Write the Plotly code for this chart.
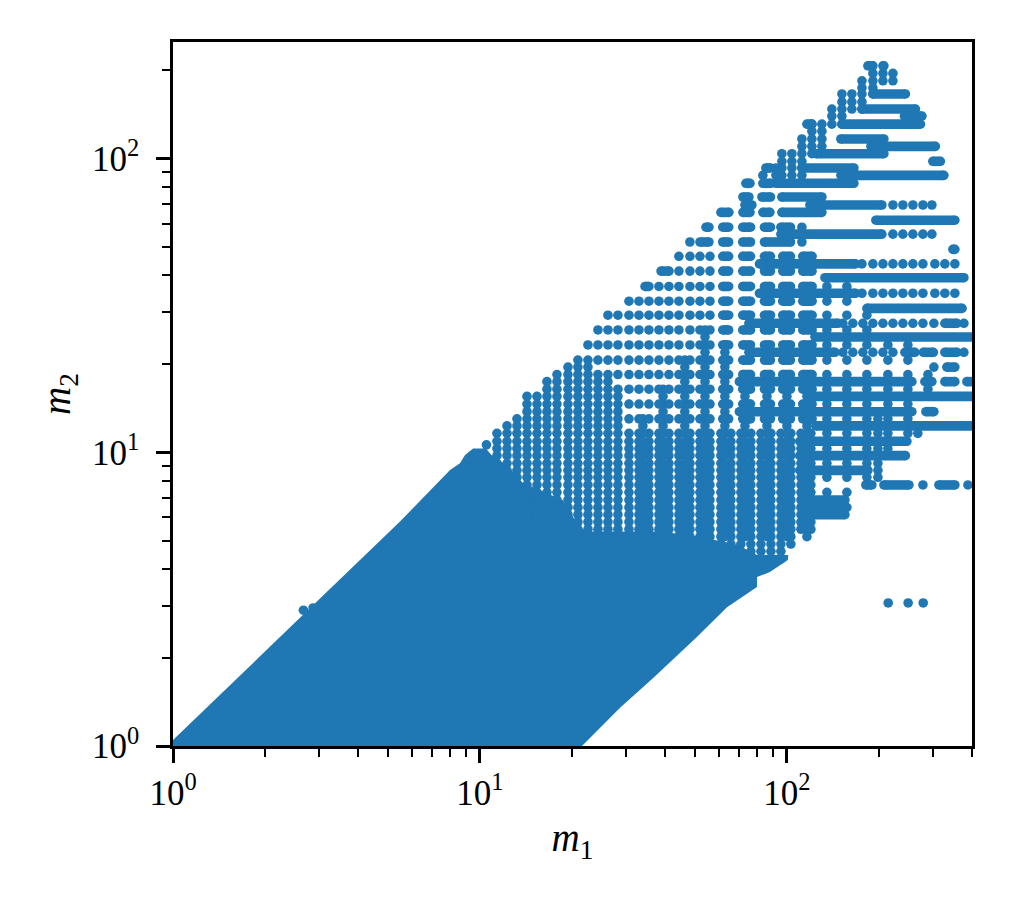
import plotly.graph_objects as go

BLUE = "#1f77b4"
DOT = 9.6

# every m2 level that shows up in the plot (top to bottom)
m2_rows = [207, 195, 184, 174, 166, 156, 147.5, 139.6, 131, 124, 116.6, 110.1, 103.9, 97.9, 92.9, 87.7,
           82.4, 78, 74, 69.5, 65.6, 61.7, 58.4, 55.3, 52, 49.1, 46.5, 43.8, 41.4, 39.3, 36.7, 34.8,
           32.7, 30.9, 29.3, 27.5, 26.1, 24.7, 23.2, 21.9, 20.6, 19.5, 18.4, 17.4, 16.4, 15.5, 14.6,
           13.75, 13.0, 12.3, 11.6, 10.9, 10.3, 9.74, 9.17, 8.68, 8.22, 7.74, 7.31, 6.88, 6.49, 6.13,
           5.79, 5.47, 5.16, 4.87, 4.6, 4.34]

# the filled-in part of the cloud, outline only
solid_m1 = [1, 1, 5.49, 7.99, 8.61, 8.94, 9.5, 10.46, 10.9, 11.9, 12.8, 13.8, 16.1, 18.6, 20.4, 22, 38.6,
            52.1, 68.7, 79.9, 101, 100.7, 88, 79.9, 79.9, 63.8, 50.9, 36.6, 28.6, 21.5]
solid_m2 = [1, 1.048, 5.81, 8.70, 9.17, 9.79, 10.3, 10.3, 9.79, 9.17, 8.59, 7.86, 7.34, 6.88, 5.88, 5.37,
            5.37, 5.16, 4.84, 4.47, 4.47, 4.30, 3.91, 3.76, 3.48, 2.97, 2.35, 1.70, 1.35, 1]

# full columns running down into the solid part
col_m1 = [11.36, 12.25, 13.2, 14.23, 15.34, 16.53, 17.82, 19.35, 20.85, 22.48, 24.23, 26.12, 28.15, 30.58,
          32.96, 35.52, 38.29, 41.27, 44.48, 48.32, 52.08, 56.14, 60.95, 65.7, 70.8, 76.3, 82.3, 88.7,
          95.6, 103, 111.1, 119.7]
col_top = [11.6, 12.3, 13.0, 15.5, 15.5, 17.4, 18.4, 19.5, 20.6, 20.6, 18.4, 17.4, 15.5, 11.6,
           11.6, 11.6, 11.6, 11.6, 11.6, 11.6, 11.6, 11.6, 11.6, 11.6, 11.6, 11.6, 11.6, 11.6,
           11.6, 11.6, 11.6, 11.6]
col_low = [5.0] * 22 + [4.6, 4.6, 4.6, 4.34, 4.34, 4.34, 4.34, 4.87, 5.47, 5.47]

# columns sitting half way between the ones above
half_m1 = [33.95, 39.5, 46.5, 54.1, 62.8, 73, 86.1, 100, 116.2]
half_top = [13.0, 16.4, 20.6, 26.1, 23.2, 15.5, 15.5, 15.5, 15.5]

# short columns in the peak at the top
peak_m1 = [190.6, 205.5, 221.5, 175.6, 162.8, 151.1, 140.1, 130, 120.6, 111.9, 103.8, 96.3, 92.1, 83.5]
peak_top = [207, 207, 195, 184, 166, 166, 147.5, 131, 131, 116.6, 103.9, 103.9, 92.9, 87.7]
peak_low = [166, 184, 184, 147.5, 147.5, 131, 131, 110.1, 103.9, 87.7, 87.7, 82.4, 82.4, 82.4]

# rows of separate dots, first dot per row
even_m2 = [46.5, 41.4, 36.7, 32.7, 29.3, 26.1, 23.2, 20.6, 18.4, 16.4, 14.6, 13.0]
even_start = [44.48, 44.48, 38.29, 30.58, 26.12, 24.23, 22.48, 24.23, 26.12, 28.15, 30.58, 30.58]
row_end = 56.14

# merged runs shared by those rows
block_from = [61.8, 71.8, 84.5, 96.9, 112.6]
block_to = [64.6, 76.1, 88.4, 102.7, 120.8]

# sparse columns on the right, they only hit every second level
right_m1 = [135, 156.8, 182.2, 197.9, 213.3, 247.8, 288, 267]
right_top = [36.7, 36.7, 29.3, 13.0, 23.2, 23.2, 18.4, 11.6]
right_low = [7.31, 6.49, 8.22, 8.22, 10.3, 11.6, 16.4, 11.6]
second_levels = [36.7, 32.7, 29.3, 26.1, 23.2, 20.6, 18.4, 16.4, 14.6, 13.0, 11.6, 10.3, 9.17, 8.22, 7.31, 6.49]

# horizontal runs: m2, from m1, to m1
runs = [
    (207, 183.6, 189.2), (166, 190.6, 243.2), (147.5, 175.6, 262.2), (139.6, 241.4, 275.4),
    (131, 116.2, 120.6), (131, 151.1, 272.3), (116.6, 149.9, 207), (110.1, 187.8, 304.5),
    (103.9, 124.3, 207), (97.9, 298.8, 316.2), (92.9, 85.4, 88.4), (92.9, 111.9, 165.3),
    (87.7, 149.9, 324.6), (82.4, 73.5, 75.8), (82.4, 84.5, 88.7), (82.4, 93.5, 165.3),
    (74, 71.9, 75.2), (74, 82.9, 88.4), (74, 96.3, 130), (69.5, 118.8, 203.9),
    (65.6, 60.95, 64.7), (65.6, 71.9, 75.8), (65.6, 83.5, 88), (65.6, 96.3, 130),
    (61.7, 194.9, 352.5), (58.4, 54.5, 55.7), (58.4, 61.8, 64.6), (58.4, 71.8, 76.1),
    (58.4, 84.5, 88.4), (58.4, 95.6, 102.7), (55.3, 95.6, 203.9), (52, 52.1, 55.7),
    (52, 61.8, 64.6), (52, 71.8, 76.1), (52, 84.5, 102.7), (49.1, 347.3, 352.5),
    (43.8, 81.4, 167.2), (41.4, 38.9, 41.3), (39.3, 133, 377.2), (36.7, 34.5, 35.5),
    (34.8, 81.4, 167.2), (30.9, 182.2, 372), (27.5, 75.2, 146.6), (27.5, 327, 357.9),
    (24.7, 123.4, 420), (21.9, 75.2, 143.4), (21.9, 242.3, 261.2), (21.9, 278.4, 300),
    (21.9, 327, 357.9), (19.5, 331.9, 352.5), (17.4, 70, 255.4), (17.4, 281.5, 296.7),
    (17.4, 327, 352.5), (17.4, 385.8, 420), (15.5, 121.5, 420), (13.75, 70, 255.4),
    (13.75, 283.7, 301.2), (12.3, 124.3, 420), (10.9, 110.2, 246), (9.74, 110.2, 243.2),
    (8.68, 110.2, 183.6), (7.74, 180.8, 189.2), (7.74, 207, 249.7), (7.74, 312.7, 352.5),
    (6.88, 118.8, 154.5), (6.49, 118.8, 154.5), (6.13, 118.8, 154.5),
]

# single points: m2, then its m1 values
singles = [
    (207, [207]),
    (82.4, [96.3]),
    (69.5, [73, 76.9, 221.5, 238.7, 257.3, 277.4, 296.7]),
    (58.4, [111.9]),
    (55.3, [221.5, 238.7, 257.3, 277.4, 296.7]),
    (52, [48.3, 111.9]),
    (43.8, [175.6, 190.6, 205.5, 221.5, 238.7, 257.3, 277.4, 303.4, 327, 352.5]),
    (34.8, [175.6, 190.6, 205.5, 221.5, 238.7, 257.3, 277.4, 303.4, 327, 352.5]),
    (27.5, [152.2, 164, 176.8, 190.6, 205.5, 221.5, 238.7, 257.3, 277.4, 301.2, 377.2]),
    (21.9, [152.2, 164, 176.8, 190.6, 205.5, 221.5, 377.2]),
    (19.5, [301.2]),
    (8.68, [197.9]),
    (7.74, [277.4, 388.8]),
    (10.6, [10.5]),
    (3.07, [213.8, 248.3, 278]),
    (2.9, [2.66]),
    (2.95, [2.86]),
]

tick_vals = [1, 10, 100]
tick_text = ["10<sup>0</sup>", "10<sup>1</sup>", "10<sup>2</sup>"]

# collect scatter points
pts_x, pts_y = [], []
for m1, top, low in zip(col_m1, col_top, col_low):
    for m2 in m2_rows:
        if low <= m2 <= top:
            pts_x.append(m1)
            pts_y.append(m2)
for m1, top in zip(half_m1, half_top):
    for m2 in m2_rows:
        if 5 <= m2 <= top:
            pts_x.append(m1)
            pts_y.append(m2)
for m1, top, low in zip(peak_m1, peak_top, peak_low):
    for m2 in m2_rows:
        if low <= m2 <= top:
            pts_x.append(m1)
            pts_y.append(m2)
for m1, top, low in zip(right_m1, right_top, right_low):
    for m2 in second_levels:
        if low <= m2 <= top:
            pts_x.append(m1)
            pts_y.append(m2)
for m2, start in zip(even_m2, even_start):
    for m1 in col_m1:
        if start <= m1 <= row_end:
            pts_x.append(m1)
            pts_y.append(m2)
for m2, m1s in singles:
    pts_x.extend(m1s)
    pts_y.extend([m2] * len(m1s))

# collect runs
run_x, run_y = [], []
for m2, a, b in runs:
    run_x += [a, b, None]
    run_y += [m2, m2, None]
for m2 in even_m2:
    for a, b in zip(block_from, block_to):
        run_x += [a, b, None]
        run_y += [m2, m2, None]

fig = go.Figure()
fig.add_trace(go.Scatter(x=solid_m1, y=solid_m2, mode="lines", fill="toself", fillcolor=BLUE,
                         line=dict(width=0, color=BLUE), hoverinfo="skip"))
fig.add_trace(go.Scatter(x=run_x, y=run_y, mode="lines+markers", connectgaps=False,
                         line=dict(width=DOT, color=BLUE), marker=dict(size=DOT, color=BLUE)))
fig.add_trace(go.Scatter(x=pts_x, y=pts_y, mode="markers", marker=dict(size=DOT, color=BLUE)))

tick_font = dict(family="Liberation Serif", size=35, color="black")
title_font = dict(family="Liberation Serif", size=39, color="black")
minor_ticks = dict(ticks="outside", ticklen=8, tickwidth=2, tickcolor="black", dtick="D1", showgrid=False)
fig.update_xaxes(type="log", range=[0, 2.603], tickvals=tick_vals, ticktext=tick_text,
                 ticks="outside", ticklen=14, tickwidth=2.5, tickcolor="black", minor=minor_ticks,
                 showline=True, linewidth=2.5, linecolor="black", mirror=True, showgrid=False, zeroline=False,
                 tickfont=tick_font, ticklabelstandoff=0,
                 title=dict(text="<i>m</i><sub>1</sub>", font=title_font, standoff=12))
fig.update_yaxes(type="log", range=[0, 2.397], tickvals=tick_vals, ticktext=tick_text,
                 ticks="outside", ticklen=14, tickwidth=2.5, tickcolor="black", minor=minor_ticks,
                 showline=True, linewidth=2.5, linecolor="black", mirror=True, showgrid=False, zeroline=False,
                 tickfont=tick_font, ticklabelstandoff=10,
                 title=dict(text="<i>m</i><sub>2</sub>", font=title_font, standoff=10))
fig.update_layout(width=1012, height=900, showlegend=False, paper_bgcolor="white", plot_bgcolor="white",
                  margin=dict(l=173, r=40, t=42, b=154))

fig.write_html("out.html", config={"displayModeBar": False}, post_script="document.body.style.margin='0'")
